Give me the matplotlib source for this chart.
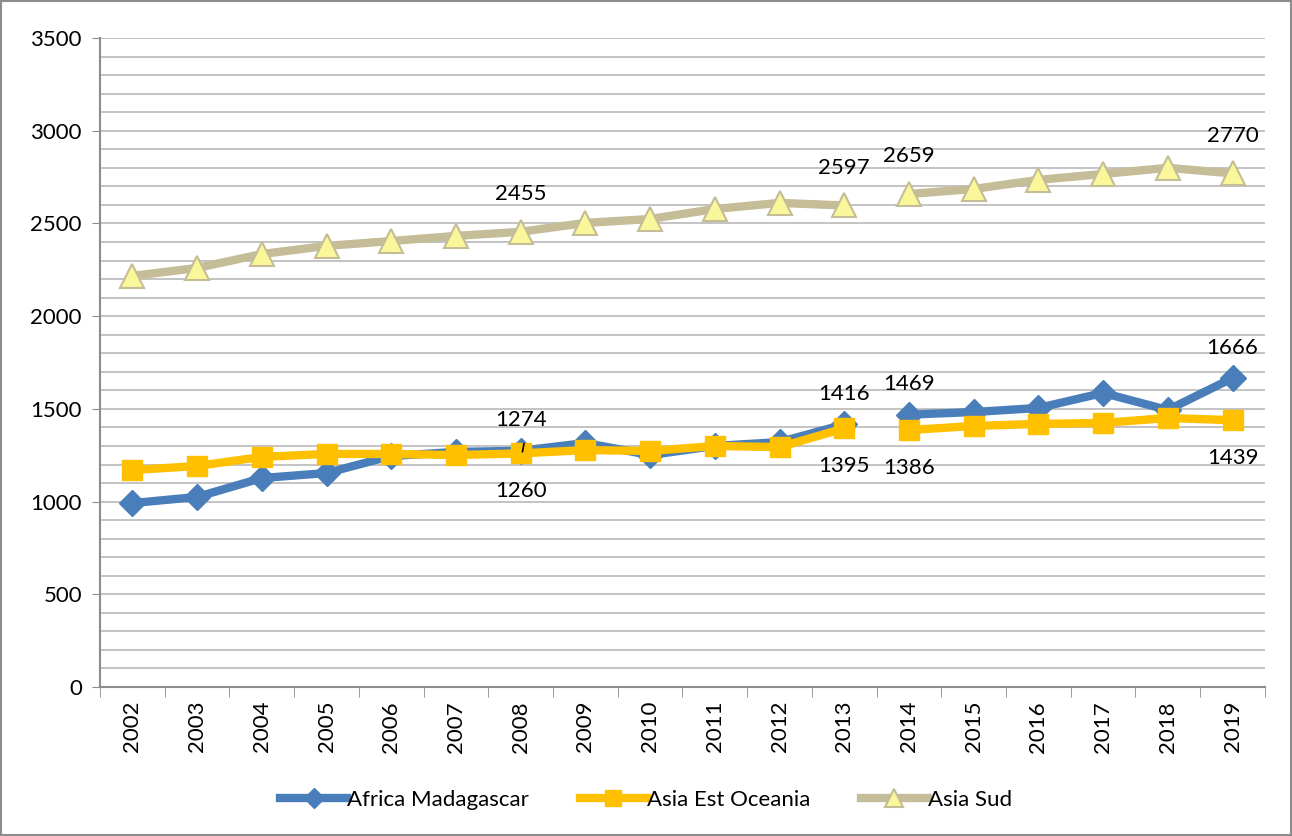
import matplotlib.pyplot as plt
import matplotlib.patches as patches
import numpy as np

plt.rcParams['font.family'] = ['Lato', 'DejaVu Sans']

years = list(range(2002, 2020))
africa = [992, 1025, 1127, 1154, 1246, 1268, 1274, 1316, 1251, 1300, 1321, 1416,
          1469, 1483, 1505, 1586, 1494, 1666]
asia_est = [1170, 1192, 1241, 1257, 1257, 1251, 1260, 1278, 1273, 1300, 1294, 1395,
            1386, 1408, 1419, 1424, 1451, 1439]
asia_sud = [2217, 2260, 2335, 2379, 2405, 2433, 2455, 2503, 2524, 2578, 2611, 2597,
            2659, 2686, 2735, 2767, 2800, 2770]

# years whose points carry a value label
labels_sud = [2008, 2013, 2014, 2019]
labels_africa = [2008, 2013, 2014, 2019]
labels_est = [2008, 2013, 2014, 2019]

fig = plt.figure(figsize=(12.92, 8.36), dpi=100)
ax = fig.add_axes([0.0774, 0.1782, 0.9016, 0.7763])

x = np.arange(len(years))
split = years.index(2014)  # the series break between 2013 and 2014

series = [
    ('Africa Madagascar', africa, dict(color='#4A7EBB', marker='D', markersize=13,
                                       markerfacecolor='#4A7EBB', markeredgecolor='#4A7EBB')),
    ('Asia Est Oceania', asia_est, dict(color='#FFC000', marker='s', markersize=15,
                                        markerfacecolor='#FFC000', markeredgecolor='#FFC000')),
    ('Asia Sud', asia_sud, dict(color='#C4BD97', marker='^', markersize=17,
                                markerfacecolor='#FAF79A', markeredgecolor='#C4BD97',
                                markeredgewidth=1.5)),
]

handles = []
for name, vals, style in series:
    vals = np.array(vals, dtype=float)
    h, = ax.plot(x[:split], vals[:split], lw=6, zorder=3, label=name, **style)
    ax.plot(x[split:], vals[split:], lw=6, zorder=3, **style)
    handles.append(h)

def put_labels(vals, yrs, dy):
    for yr in yrs:
        i = years.index(yr)
        ax.annotate(str(vals[i]), (x[i], vals[i]), xytext=(0, dy), textcoords='offset points',
                    ha='center', va='center', fontsize=16, zorder=5)

put_labels(asia_sud, labels_sud, 27)
put_labels(africa, labels_africa, 22)
put_labels(asia_est, labels_est, -27)
# little leader line near the 2008 label
i08 = years.index(2008)
ax.annotate('', (x[i08] + 0.02, africa[i08] - 20), xytext=(x[i08] + 0.06, africa[i08] + 55),
            arrowprops=dict(arrowstyle='-', color='black', lw=1.2), zorder=6)

ax.set_ylim(0, 3500)
ax.set_xlim(-0.5, len(years) - 0.5)
ax.set_yticks(np.arange(0, 3501, 500))
ax.set_yticks(np.arange(0, 3501, 100), minor=True)
ax.grid(axis='y', which='both', color='#BEBEBE', lw=1.3, zorder=0)
ax.tick_params(axis='y', which='minor', length=0)
ax.tick_params(axis='y', which='major', length=6, color='#8C8C8C', labelsize=16, pad=7)

ax.set_xticks(x)
ax.set_xticklabels([str(y) for y in years], rotation=90, fontsize=16)
ax.tick_params(axis='x', which='major', length=0, pad=10)
ax.set_xticks(np.arange(-0.5, len(years), 1), minor=True)
ax.tick_params(axis='x', which='minor', length=7, color='#8C8C8C')

for s in ['top', 'right']:
    ax.spines[s].set_visible(False)
for s in ['left', 'bottom']:
    ax.spines[s].set_color('#8C8C8C')
    ax.spines[s].set_linewidth(1.5)

fig.legend(handles=handles, loc='center', bbox_to_anchor=(0.5, 0.043), ncol=3, frameon=False,
           fontsize=16, handlelength=3.0, handletextpad=0.0, columnspacing=2.3, markerscale=0.8)

fig.patches.append(patches.Rectangle((0.001, 0.001), 0.998, 0.998, transform=fig.transFigure,
                                     fill=False, edgecolor='#8C8C8C', lw=1.5))

fig.savefig('out.png', dpi=100)
